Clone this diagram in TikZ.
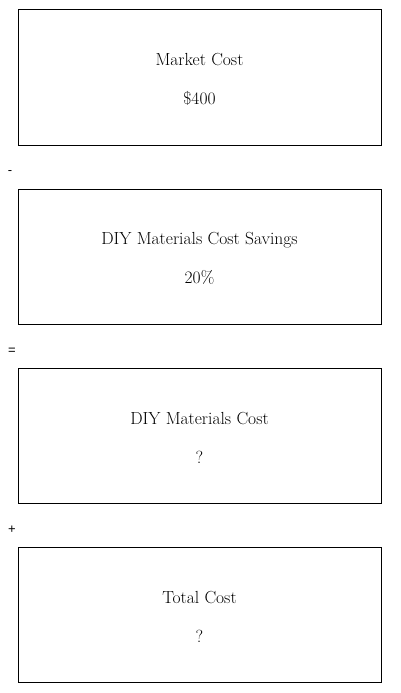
\documentclass[tikz,border=0pt]{standalone}
\usepackage{fontspec}
\newfontfamily\opfont{Liberation Sans}
\usetikzlibrary{positioning}
\newcommand{\topstrut}{\rule{0pt}{16pt}}

\begin{document}
\begin{tikzpicture}[
x=1pt, y=1pt,
font=\fontsize{17.5}{20}\selectfont,
costbox/.style={draw=black, line width=1pt, minimum width=363pt, minimum height=135pt, align=center, inner sep=0pt},
opsign/.style={font=\opfont\fontsize{13}{15}\selectfont, inner sep=0pt}
]
\useasboundingbox (0,0) rectangle (400,-693);

\node[costbox] (market) at (199.5,-77.5) {\topstrut Market Cost\\[19pt]\$400};
\node[costbox, below=43pt of market] (savings) {\topstrut DIY Materials Cost Savings\\[19pt]20\%};
\node[costbox, below=43pt of savings] (diy) {\topstrut DIY Materials Cost\\[19pt]?};
\node[costbox, below=43pt of diy] (total) {\topstrut Total Cost\\[19pt]?};

\node[opsign] (minus) at (10,-172.5) {-};
\node[opsign] (equals) at (12,-351) {=};
\node[opsign] (plus) at (12,-529.5) {+};
\end{tikzpicture}
\end{document}
